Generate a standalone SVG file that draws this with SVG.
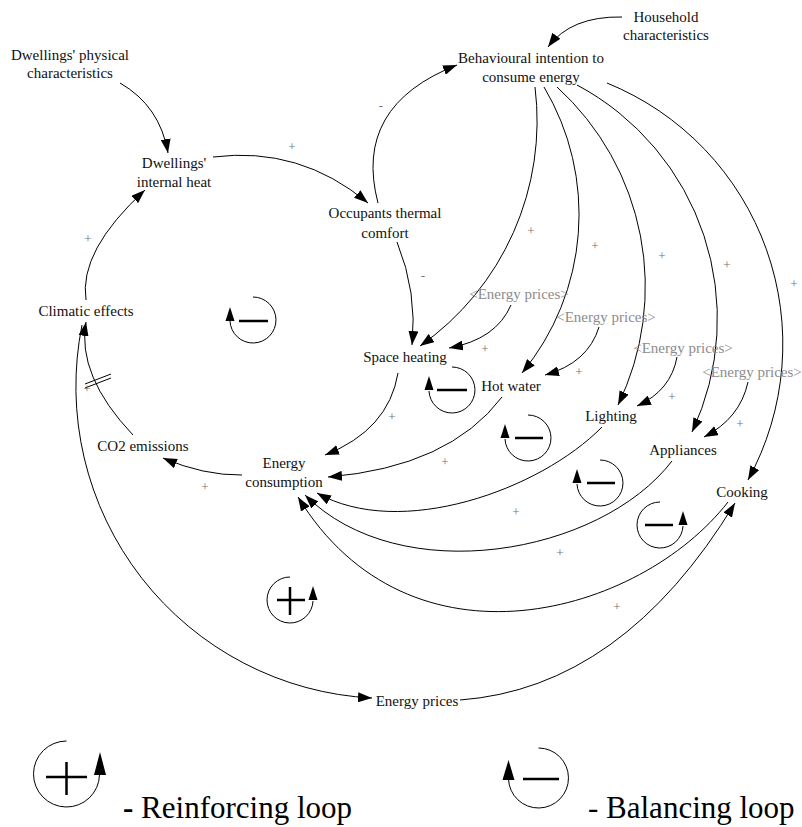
<svg xmlns="http://www.w3.org/2000/svg" width="802" height="827" viewBox="0 0 802 827">
<style>
.n{font-family:"Liberation Serif","Times New Roman",serif;font-size:15px;fill:#111;text-anchor:middle}
.sh{fill:#8c8c8c}
.p{font-family:"Liberation Serif","Times New Roman",serif;font-size:13px;fill:#707070;text-anchor:middle}
.c{fill:none;stroke:#000;stroke-width:1;marker-end:url(#ah)}
.lp{fill:none;stroke:#000;stroke-width:1}
.bar{stroke:#000;stroke-width:2.5;fill:none}
.lg{font-family:"Liberation Serif","Times New Roman",serif;font-size:31px;fill:#000}
</style>
<defs>
<marker id="ah" viewBox="0 0 14 10" refX="14" refY="5" markerWidth="14" markerHeight="10" markerUnits="userSpaceOnUse" orient="auto">
<path d="M0,0 L14,5 L0,10 z" fill="#000"/>
</marker>
</defs>
<rect width="802" height="827" fill="#fff"/>

<g id="connectors">
<path class="c" d="M120,83 Q160,106 168,153"/>
<path class="c" d="M213,157 Q300,146 368,203"/>
<path class="c" d="M378,203 Q352.5,106 457,65"/>
<path class="c" d="M622,17 Q571,16 548,47"/>
<path class="c" d="M86,300 Q78.5,251 145,190"/>
<path class="c" d="M133,435 Q76.5,375.5 86,322"/>
<path class="c" d="M82,325 A312,312 0 0 0 372,698"/>
<path class="c" d="M535,87 A275,275 0 0 1 420,346"/>
<path class="c" d="M544,87 A249,249 0 0 1 522,373"/>
<path class="c" d="M557,87 A270,270 0 0 1 618,405"/>
<path class="c" d="M577,85 A265,265 0 0 1 692,432"/>
<path class="c" d="M607,83 A282,282 0 0 1 748,480"/>
<path class="c" d="M511,305 Q496,339.5 449,348"/>
<path class="c" d="M599,327 Q588,363 545,375"/>
<path class="c" d="M677,357 Q671,390.5 637,406"/>
<path class="c" d="M748,382 Q740,418.5 704,437"/>
<path class="c" d="M397,242 Q417.5,292.5 412,345"/>
<path class="c" d="M398,373 Q388.5,430 325,455"/>
<path class="c" d="M502,397 Q449,467 328,477"/>
<path class="c" d="M602,427 C540,490 400,540 317,493"/>
<path class="c" d="M672,461 C600,555 400,590 305,495"/>
<path class="c" d="M728,502 C640,615 410,680 298,497"/>
<path class="c" d="M460,700 Q622.5,688 735,503"/>
<path class="c" d="M242,475 Q203.5,475.5 163,458"/>
<line x1="85" y1="388" x2="111" y2="378" stroke="#000" stroke-width="1"/>
<line x1="85" y1="384" x2="111" y2="374" stroke="#000" stroke-width="1"/>
</g>

<g id="polarities">
<text class="p" x="292" y="151">+</text>
<text class="p" x="381" y="110">-</text>
<text class="p" x="88" y="243">+</text>
<text class="p" x="87" y="393">+</text>
<text class="p" x="205" y="491">+</text>
<text class="p" x="392" y="421">+</text>
<text class="p" x="423" y="280">-</text>
<text class="p" x="531" y="235">+</text>
<text class="p" x="595" y="250">+</text>
<text class="p" x="662" y="260">+</text>
<text class="p" x="727" y="269">+</text>
<text class="p" x="794" y="288">+</text>
<text class="p" x="485" y="353">+</text>
<text class="p" x="579" y="376">+</text>
<text class="p" x="672" y="401">+</text>
<text class="p" x="740" y="428">+</text>
<text class="p" x="445" y="466">+</text>
<text class="p" x="516" y="516">+</text>
<text class="p" x="560" y="557">+</text>
<text class="p" x="617" y="611">+</text>
</g>

<g id="dwellings-physical"><text class="n" x="70" y="60">Dwellings' physical</text><text class="n" x="70" y="78">characteristics</text></g>
<g id="household"><text class="n" x="666" y="22">Household</text><text class="n" x="666" y="40">characteristics</text></g>
<g id="behavioural"><text class="n" x="531" y="63">Behavioural intention to</text><text class="n" x="531" y="82">consume energy</text></g>
<g id="dwellings-heat"><text class="n" x="174" y="168">Dwellings'</text><text class="n" x="174" y="187">internal heat</text></g>
<g id="occupants"><text class="n" x="385" y="218">Occupants thermal</text><text class="n" x="385" y="238">comfort</text></g>
<g id="climatic"><text class="n" x="86" y="316">Climatic effects</text></g>
<g id="space-heating"><text class="n" x="405" y="362">Space heating</text></g>
<g id="hot-water"><text class="n" x="511" y="391">Hot water</text></g>
<g id="lighting"><text class="n" x="611" y="421">Lighting</text></g>
<g id="appliances"><text class="n" x="683" y="455">Appliances</text></g>
<g id="cooking"><text class="n" x="742" y="497">Cooking</text></g>
<g id="co2"><text class="n" x="143" y="451">CO2 emissions</text></g>
<g id="energy-consumption"><text class="n" x="284" y="468">Energy</text><text class="n" x="284" y="487">consumption</text></g>
<g id="energy-prices"><text class="n" x="417" y="706">Energy prices</text></g>
<g id="ep-shadow-1"><text class="n sh" x="519" y="299">&lt;Energy prices&gt;</text></g>
<g id="ep-shadow-2"><text class="n sh" x="606" y="322">&lt;Energy prices&gt;</text></g>
<g id="ep-shadow-3"><text class="n sh" x="683" y="353">&lt;Energy prices&gt;</text></g>
<g id="ep-shadow-4"><text class="n sh" x="752" y="377">&lt;Energy prices&gt;</text></g>

<g id="loop-b1"><path class="lp" d="M253,297 A23,23 0 1 1 230,321"/><polygon points="230,307 225.5,321 234.5,321"/><line class="bar" x1="239" y1="321" x2="268" y2="321"/></g>
<g id="loop-b2"><path class="lp" d="M452,367 A23,23 0 1 1 429,391"/><polygon points="429,376 424.5,390 433.5,390"/><line class="bar" x1="437" y1="390" x2="467" y2="390"/></g>
<g id="loop-b3"><path class="lp" d="M528,415 A23,23 0 1 1 505,439"/><polygon points="505,424 500.5,438 509.5,438"/><line class="bar" x1="515" y1="438" x2="543" y2="438"/></g>
<g id="loop-b4"><path class="lp" d="M600,460 A23,23 0 1 1 577,484"/><polygon points="577,469 572.5,483 581.5,483"/><line class="bar" x1="587" y1="483" x2="615" y2="483"/></g>
<g id="loop-b5"><path class="lp" d="M660,502 A23,23 0 1 0 683,526"/><polygon points="683,511 678.5,525 687.5,525"/><line class="bar" x1="645" y1="525" x2="673" y2="525"/></g>
<g id="loop-r1"><path class="lp" d="M290,577 A23,23 0 1 0 313,601"/><polygon points="313,586 308.5,600 317.5,600"/><line class="bar" stroke-width="2" x1="277" y1="600" x2="305" y2="600"/><line class="bar" stroke-width="2" x1="290" y1="587" x2="290" y2="615"/></g>

<g id="legend-reinforcing">
<path class="lp" stroke-width="1.3" d="M66.5,741 A33,33 0 1 0 99.5,775"/>
<polygon points="100,752 94,775 106,775"/>
<line class="bar" stroke-width="3" x1="46" y1="777" x2="87" y2="777"/>
<line class="bar" stroke-width="3" x1="66.5" y1="762" x2="66.5" y2="795"/>
<text class="lg" x="123" y="818"><tspan font-weight="bold">-</tspan> Reinforcing loop</text>
</g>
<g id="legend-balancing">
<path class="lp" stroke-width="1.3" d="M538.5,748 A30,30 0 1 1 508.5,779"/>
<polygon points="508.5,760 502.5,780 514.5,780"/>
<line class="bar" stroke-width="3" x1="523" y1="779" x2="559" y2="779"/>
<text class="lg" x="588" y="818">- Balancing loop</text>
</g>
</svg>
